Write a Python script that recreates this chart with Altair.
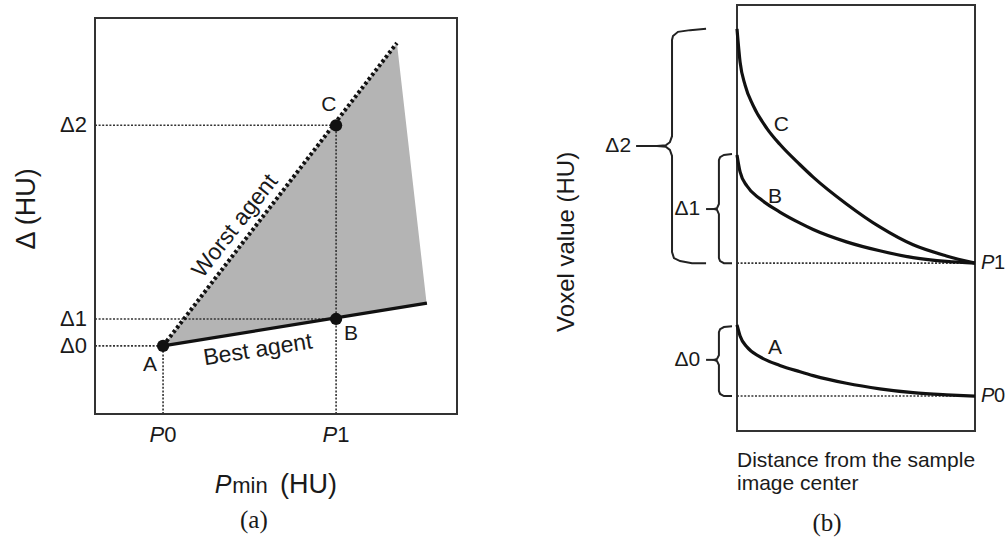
import altair as alt
import pandas as pd

# ---------------- Panel (a): Delta vs P_min (arbitrary units 0-10) ----------------
P_DIGITS = ["0", "1"]
P_VALUES = [1.88, 6.66]
D_LABELS = ["Δ0", "Δ1", "Δ2"]
D_VALUES = [1.72, 2.40, 7.29]
PT_NAMES = ["A", "B", "C"]
PT_X = [1.88, 6.66, 6.66]
PT_Y = [1.72, 2.40, 7.29]
PT_LABEL_X = [1.52, 7.07, 6.46]
PT_LABEL_Y = [1.24, 2.02, 7.80]
WORST_X = [1.88, 8.34]
WORST_Y = [1.72, 9.37]
BEST_X = [1.88, 9.17]
BEST_Y = [1.72, 2.80]
SHADE_X = [1.88, 8.34, 9.15]
SHADE_TOP = [1.72, 9.37, 2.88]
SHADE_BOTTOM = [1.72, 2.68, 2.80]

# ---------------- Panel (b): voxel value vs distance (0-100) ----------------
DIST_C = [0, 1.3, 3.4, 6.7, 12.6, 18, 26.5, 32, 46, 60, 74, 88, 100]
VOX_C = [94.4, 86.6, 81.2, 76.5, 71.0, 67.3, 62.5, 59.6, 53.3, 47.9, 43.7, 41.1, 39.4]
DIST_B = [0, 1.3, 4.2, 9.7, 18, 26.5, 32, 46, 60, 74, 88, 100]
VOX_B = [64.8, 60.8, 57.5, 54.5, 51.4, 48.8, 47.3, 44.4, 42.3, 40.7, 39.8, 39.4]
DIST_A = [0, 1.3, 4.2, 9.7, 18, 26.5, 32, 46, 60, 74, 88, 100]
VOX_A = [24.9, 22.3, 19.7, 17.4, 15.4, 13.9, 13.0, 11.2, 9.9, 9.0, 8.5, 8.2]
LEVEL_NAMES = ["0", "1"]
LEVEL_VALUES = [8.2, 39.4]
CURVE_LABEL_X = [16.0, 16.0, 18.6]
CURVE_LABEL_Y = [19.5, 54.9, 71.8]

# braces (x, y in panel-b units)
BRACE2_X = [-13.0, -19.7, -24.8, -26.9, -27.3, -27.3, -28.2, -29.8, -33.6, -29.8, -28.2, -27.3, -27.3, -26.5, -23.9, -18.9, -13.0]
BRACE2_Y = [94.4, 94.1, 93.7, 92.7, 91.8, 69.2, 67.8, 67.1, 66.9, 66.7, 66.0, 64.6, 42.0, 40.6, 39.9, 39.4, 39.4]
BRACE1_X = [-2.1, -5.5, -7.1, -7.6, -7.6, -8.4, -9.7, -8.4, -7.6, -7.6, -7.1, -5.5, -2.1]
BRACE1_Y = [65.0, 64.8, 64.3, 63.6, 53.3, 52.3, 52.1, 51.9, 50.9, 40.6, 39.9, 39.4, 39.4]
BRACE0_X = [-2.1, -5.5, -7.1, -7.6, -7.6, -8.4, -9.7, -8.4, -7.6, -7.6, -7.1, -5.5, -2.1]
BRACE0_Y = [24.6, 24.4, 23.9, 23.2, 17.8, 16.9, 16.7, 16.4, 15.5, 9.4, 8.7, 8.2, 8.2]
STEM_X1 = [-42.4, -13.0, -13.0]
STEM_X2 = [-33.6, -9.7, -9.7]
STEM_Y = [66.9, 52.1, 16.7]
BD_LABEL_X = [-15.5, -15.5, -44.5]
BD_LABEL_Y = [16.7, 52.1, 66.9]

SANS = "Liberation Sans"
SERIF = "Liberation Serif"
INK = "#1a1a1a"

XA = alt.Scale(domain=[0, 10], range=[95, 457], nice=False, zero=False)
YA = alt.Scale(domain=[0, 10], range=[414, 18], nice=False, zero=False)
XB = alt.Scale(domain=[0, 100], range=[737, 975], nice=False, zero=False)
YB = alt.Scale(domain=[0, 100], range=[431, 5], nice=False, zero=False)


def X(f, s):
    return alt.X(f"{f}:Q", scale=s, axis=None)


def Y(f, s):
    return alt.Y(f"{f}:Q", scale=s, axis=None)


def text_layer(df, xs, ys, size, align="center", baseline="middle", angle=0,
               style="normal", font=SANS):
    kw = dict(fontSize=size, align=align, baseline=baseline, font=font,
              color=INK, fontStyle=style)
    if angle:
        kw["angle"] = angle
    return alt.Chart(df).mark_text(**kw).encode(
        x=X("x", xs), y=Y("y", ys), text="t:N")


layers = []

# ===== Panel (a) =====
box_a = pd.DataFrame({"x": [0], "x2": [10], "y": [0], "y2": [10]})
layers.append(alt.Chart(box_a).mark_rect(fill=None, stroke="#333333", strokeWidth=2).encode(
    x=X("x", XA), x2="x2:Q", y=Y("y", YA), y2="y2:Q"))

shade = pd.DataFrame({"x": SHADE_X, "y": SHADE_TOP, "y2": SHADE_BOTTOM})
layers.append(alt.Chart(shade).mark_area(color="#b4b4b4", opacity=1).encode(
    x=X("x", XA), y=Y("y", YA), y2="y2:Q"))

guides = pd.DataFrame({
    "x": [0, 0, 0, P_VALUES[0], P_VALUES[1]],
    "x2": [PT_X[0], PT_X[1], PT_X[2], P_VALUES[0], P_VALUES[1]],
    "y": [D_VALUES[0], D_VALUES[1], D_VALUES[2], 0, 0],
    "y2": [D_VALUES[0], D_VALUES[1], D_VALUES[2], PT_Y[0], PT_Y[2]],
})
layers.append(alt.Chart(guides).mark_rule(color="#333333", strokeWidth=1.6, strokeDash=[2, 1.6]).encode(
    x=X("x", XA), x2="x2:Q", y=Y("y", YA), y2="y2:Q"))

worst = pd.DataFrame({"x": WORST_X, "y": WORST_Y})
layers.append(alt.Chart(worst).mark_line(color="#111111", strokeWidth=4, strokeDash=[3, 2.6]).encode(
    x=X("x", XA), y=Y("y", YA)))
best = pd.DataFrame({"x": BEST_X, "y": BEST_Y})
layers.append(alt.Chart(best).mark_line(color="#111111", strokeWidth=3.2).encode(
    x=X("x", XA), y=Y("y", YA)))

pts = pd.DataFrame({"x": PT_X, "y": PT_Y})
layers.append(alt.Chart(pts).mark_circle(color="#111111", size=150, opacity=1).encode(
    x=X("x", XA), y=Y("y", YA)))

layers.append(text_layer(pd.DataFrame({"x": PT_LABEL_X, "y": PT_LABEL_Y, "t": PT_NAMES}), XA, YA, 21))
layers.append(text_layer(pd.DataFrame({"x": [-0.22] * 3, "y": D_VALUES, "t": D_LABELS}), XA, YA, 22, align="right"))
layers.append(text_layer(pd.DataFrame({"x": [p + 0.03 for p in P_VALUES], "y": [-0.53] * 2, "t": ["P", "P"]}),
                         XA, YA, 22, align="right", style="italic"))
layers.append(text_layer(pd.DataFrame({"x": [p + 0.03 for p in P_VALUES], "y": [-0.53] * 2, "t": P_DIGITS}),
                         XA, YA, 22, align="left"))
layers.append(text_layer(pd.DataFrame({"x": [3.87], "y": [4.75], "t": ["Worst agent"]}), XA, YA, 23, angle=308))
layers.append(text_layer(pd.DataFrame({"x": [4.50], "y": [1.62], "t": ["Best agent"]}), XA, YA, 23, angle=351))
layers.append(text_layer(pd.DataFrame({"x": [-1.88], "y": [5.18], "t": ["Δ (HU)"]}), XA, YA, 27, angle=270))
layers.append(text_layer(pd.DataFrame({"x": [3.31], "y": [-1.99], "t": ["P"]}), XA, YA, 25,
                         align="left", baseline="alphabetic", style="italic"))
layers.append(text_layer(pd.DataFrame({"x": [3.79], "y": [-1.99], "t": ["min"]}), XA, YA, 22,
                         align="left", baseline="alphabetic"))
layers.append(text_layer(pd.DataFrame({"x": [5.11], "y": [-1.99], "t": ["(HU)"]}), XA, YA, 27,
                         align="left", baseline="alphabetic"))
layers.append(text_layer(pd.DataFrame({"x": [4.39], "y": [-2.68], "t": ["(a)"]}), XA, YA, 25, font=SERIF))

# ===== Panel (b) =====
box_b = pd.DataFrame({"x": [0], "x2": [100], "y": [0], "y2": [100]})
layers.append(alt.Chart(box_b).mark_rect(fill=None, stroke="#333333", strokeWidth=2).encode(
    x=X("x", XB), x2="x2:Q", y=Y("y", YB), y2="y2:Q"))

lv = pd.DataFrame({"x": [0, 0], "x2": [100, 100], "y": LEVEL_VALUES})
layers.append(alt.Chart(lv).mark_rule(color="#333333", strokeWidth=1.6, strokeDash=[2, 1.6]).encode(
    x=X("x", XB), x2="x2:Q", y=Y("y", YB)))

curves = pd.concat([
    pd.DataFrame({"x": DIST_A, "y": VOX_A, "c": "A"}),
    pd.DataFrame({"x": DIST_B, "y": VOX_B, "c": "B"}),
    pd.DataFrame({"x": DIST_C, "y": VOX_C, "c": "C"}),
])
layers.append(alt.Chart(curves).mark_line(color="#111111", strokeWidth=3.2, interpolate="monotone").encode(
    x=X("x", XB), y=Y("y", YB), detail="c:N"))

braces = pd.concat([
    pd.DataFrame({"x": BRACE0_X, "y": BRACE0_Y, "b": "0", "i": range(len(BRACE0_X))}),
    pd.DataFrame({"x": BRACE1_X, "y": BRACE1_Y, "b": "1", "i": range(len(BRACE1_X))}),
    pd.DataFrame({"x": BRACE2_X, "y": BRACE2_Y, "b": "2", "i": range(len(BRACE2_X))}),
])
layers.append(alt.Chart(braces).mark_line(color="#222222", strokeWidth=2).encode(
    x=X("x", XB), y=Y("y", YB), detail="b:N", order="i:Q"))
stems = pd.DataFrame({"x": STEM_X1, "x2": STEM_X2, "y": STEM_Y})
layers.append(alt.Chart(stems).mark_rule(color="#222222", strokeWidth=2).encode(
    x=X("x", XB), x2="x2:Q", y=Y("y", YB)))

layers.append(text_layer(pd.DataFrame({"x": BD_LABEL_X, "y": BD_LABEL_Y, "t": D_LABELS}), XB, YB, 21, align="right"))
layers.append(text_layer(pd.DataFrame({"x": CURVE_LABEL_X, "y": CURVE_LABEL_Y, "t": PT_NAMES}), XB, YB, 21))
layers.append(text_layer(pd.DataFrame({"x": [102.5, 102.5], "y": LEVEL_VALUES, "t": ["P", "P"]}), XB, YB, 20,
                         align="left", style="italic"))
layers.append(text_layer(pd.DataFrame({"x": [108.0, 108.0], "y": LEVEL_VALUES, "t": LEVEL_NAMES}), XB, YB, 20,
                         align="left"))
layers.append(text_layer(pd.DataFrame({"x": [0, 0], "y": [-8.45, -13.85],
                                       "t": ["Distance from the sample", "image center"]}), XB, YB, 21,
                         align="left", baseline="alphabetic"))
layers.append(text_layer(pd.DataFrame({"x": [37.8], "y": [-21.6], "t": ["(b)"]}), XB, YB, 25, font=SERIF))
layers.append(text_layer(pd.DataFrame({"x": [-71.4], "y": [44.4], "t": ["Voxel value (HU)"]}), XB, YB, 24, angle=270))

chart = alt.layer(*layers).resolve_scale(x="independent", y="independent").properties(
    width=1007, height=540, padding=0, autosize=alt.AutoSizeParams(type="none"),
    background="white",
).configure_view(stroke=None)

chart.save("out.html", embed_options={"renderer": "svg", "actions": False})
